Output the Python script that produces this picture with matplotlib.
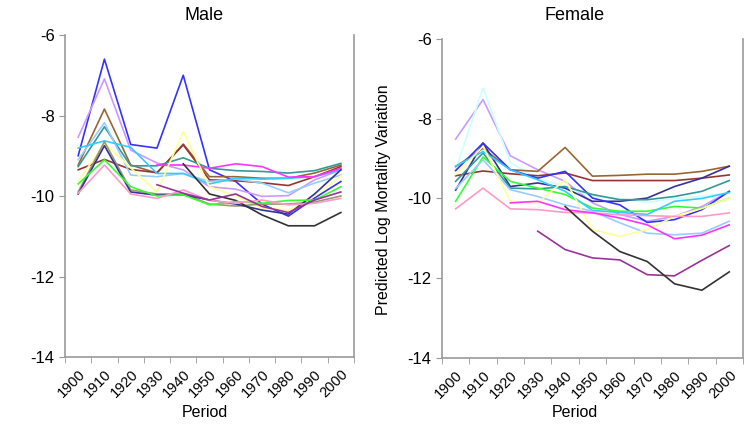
import numpy as np
import matplotlib.pyplot as plt

plt.rcParams['font.family'] = ['Liberation Sans', 'DejaVu Sans']

periods = [1900, 1910, 1920, 1930, 1940, 1950, 1960, 1970, 1980, 1990, 2000]
n = np.nan

# male series (log mortality variation)
male = {
    "#3333FF": [-9.0, -6.6, -8.72, -8.81, -7.0, -9.35, -9.64, -10.2, -10.5, -10.05, -9.64],
    "#CC99FF": [-8.54, -7.09, -8.86, -9.18, -9.35, -9.77, -9.83, -10.01, -9.99, -9.6, -9.35],
    "#996633": [-9.23, -7.84, -9.23, -9.43, -8.71, -9.52, -9.52, -9.56, -9.56, -9.43, -9.23],
    "#993333": [-9.35, -9.09, -9.34, -9.42, -8.73, -9.6, -9.62, -9.67, -9.74, -9.52, -9.27],
    "#339999": [-9.27, -8.28, -9.25, -9.25, -9.05, -9.31, -9.37, -9.39, -9.43, -9.37, -9.19],
    "#99CCFF": [-9.1, -8.18, -9.48, -9.52, -9.44, -9.64, -9.58, -9.68, -9.92, -9.68, -9.48],
    "#33CCFF": [-8.81, -8.63, -8.79, -9.44, -9.44, -9.7, -9.56, -9.58, -9.56, -9.52, -9.35],
    "#FF33FF": [n, n, n, -9.23, -9.23, -9.31, -9.2, -9.27, -9.53, -9.52, -9.31],
    "#FFFF99": [-9.64, -8.69, -9.3, -9.9, -8.4, -9.77, -10.0, -10.3, -10.35, -10.0, -9.5],
    "#999966": [-9.9, -8.65, -9.85, -9.95, -9.95, -10.2, -10.25, -10.2, -10.2, -10.15, -10.0],
    "#333399": [-9.95, -8.75, -9.9, -9.98, -9.97, -10.1, -10.2, -10.35, -10.45, -9.95, -9.35],
    "#333333": [n, n, n, n, -9.2, -9.95, -10.11, -10.47, -10.74, -10.74, -10.41],
    "#33FF33": [-9.7, -9.1, -9.77, -10.0, -9.97, -10.22, -10.14, -10.18, -10.11, -10.1, -9.77],
    "#FF99CC": [-9.93, -9.23, -9.95, -10.06, -9.85, -10.11, -10.18, -10.1, -10.22, -10.18, -10.06],
    "#993399": [n, n, n, -9.72, -9.93, -10.1, -9.95, -10.26, -10.41, -10.1, -9.9],
}

# female series
female = {
    "#CC99FF": [-8.51, -7.52, -8.93, -9.28, -9.57, -10.11, -10.4, -10.57, -10.45, -10.2, -9.82],
    "#CCFFFF": [-9.28, -7.23, -9.1, -9.5, -9.7, -9.95, -10.0, -10.1, -10.0, -9.95, -9.85],
    "#996633": [-9.2, -8.74, -9.28, -9.32, -8.72, -9.44, -9.42, -9.39, -9.39, -9.32, -9.19],
    "#993333": [-9.43, -9.31, -9.38, -9.43, -9.36, -9.55, -9.55, -9.55, -9.55, -9.49, -9.41],
    "#333399": [-9.79, -8.61, -9.7, -9.61, -9.74, -10.07, -10.07, -9.99, -9.7, -9.49, -9.19],
    "#3333FF": [-9.3, -8.61, -9.28, -9.49, -9.32, -9.99, -10.16, -10.6, -10.53, -10.28, -9.82],
    "#339999": [-9.57, -8.86, -9.74, -9.76, -9.7, -9.9, -10.03, -10.03, -9.95, -9.82, -9.55],
    "#33FF33": [-10.07, -8.96, -9.57, -9.74, -9.9, -10.24, -10.32, -10.32, -10.2, -10.24, -9.99],
    "#33CCFF": [-9.19, -8.82, -9.28, -9.53, -9.82, -10.3, -10.35, -10.4, -10.07, -10.0, -9.85],
    "#99CCFF": [-9.75, -9.03, -9.78, -9.95, -10.16, -10.32, -10.61, -10.87, -10.91, -10.87, -10.57],
    "#FFFF99": [-9.4, -8.69, -10.07, -10.11, -9.53, -10.78, -10.95, -10.78, -10.45, -10.25, -9.99],
    "#FF99CC": [-10.26, -9.74, -10.26, -10.28, -10.35, -10.36, -10.41, -10.43, -10.45, -10.45, -10.36],
    "#FF33FF": [n, n, -10.11, -10.07, -10.28, -10.36, -10.49, -10.66, -11.01, -10.92, -10.66],
    "#993399": [n, n, n, -10.82, -11.28, -11.49, -11.54, -11.91, -11.94, -11.55, -11.18],
    "#333333": [n, n, n, n, -10.2, -10.82, -11.33, -11.58, -12.14, -12.3, -11.84],
}

yticks = [-6, -8, -10, -12, -14]

fig = plt.figure(figsize=(7.5, 4.36), dpi=100)
ax1 = fig.add_axes([0.0867, 0.1812, 0.3853, 0.7385])
ax2 = fig.add_axes([0.5893, 0.1789, 0.4013, 0.7317])

x = np.arange(len(periods))
for ax, data in [(ax1, male), (ax2, female)]:
    for col, vals in data.items():
        ax.plot(x, vals, color=col, lw=1.2)
    ax.set_xlim(-0.5, len(periods) - 0.5)
    ax.set_ylim(-14, -6)
    ax.set_yticks(yticks)
    ax.set_yticklabels([str(v) for v in yticks], fontsize=12)
    ax.set_xticks(x)
    ax.set_xticklabels([str(p) for p in periods], rotation=45, ha='right',
                       rotation_mode='anchor', fontsize=10.5)
    ax.set_xticks(np.arange(-0.5, len(periods)), minor=True)
    ax.tick_params(axis='x', which='major', length=0, pad=7)
    ax.tick_params(axis='x', which='minor', length=4, color='#999999', direction='out')
    ax.tick_params(axis='y', length=4, color='#999999', direction='out')
    ax.spines['top'].set_visible(False)
    for s in ['left', 'right', 'bottom']:
        ax.spines[s].set_color('#999999')
        ax.spines[s].set_linewidth(1.2)

fig.text(204 / 750, 1 - 15 / 436, "Male", ha='center', va='center', fontsize=13)
fig.text(575 / 750, 1 - 15 / 436, "Female", ha='center', va='center', fontsize=13)
fig.text(205 / 750, 1 - 412 / 436, "Period", ha='center', va='center', fontsize=11.5)
fig.text(575 / 750, 1 - 412 / 436, "Period", ha='center', va='center', fontsize=11.5)
fig.text(383 / 750, 1 - 200 / 436, "Predicted Log Mortality Variation", ha='center',
         va='center', rotation=90, fontsize=11.5)

fig.savefig("out.png", dpi=100)
